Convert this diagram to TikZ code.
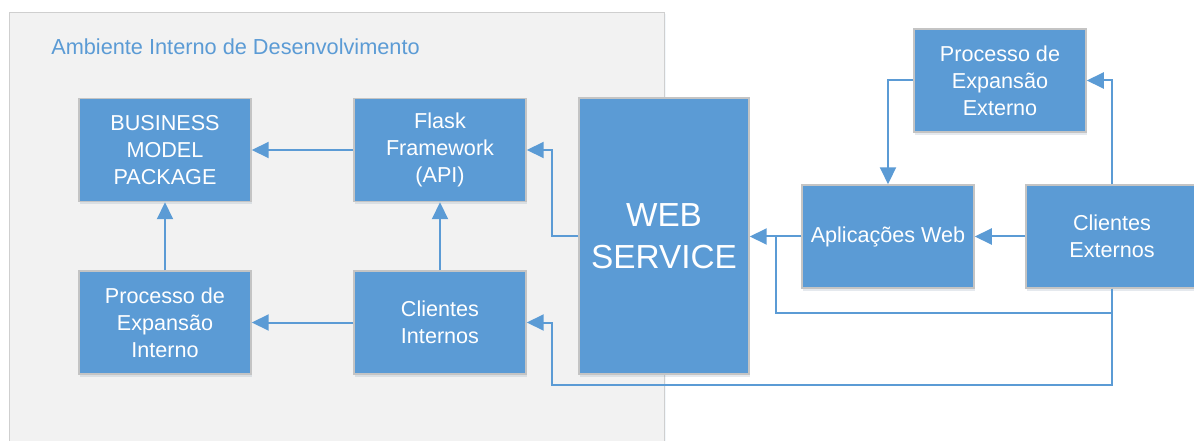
\documentclass[tikz,border=0pt]{standalone}
\usepackage{fontspec}
\setmainfont{Liberation Sans}
\usetikzlibrary{arrows.meta,shadows}
\definecolor{boxblue}{HTML}{5B9BD5}
\definecolor{boxedge}{HTML}{C4C4C4}
\definecolor{panel}{HTML}{F2F2F2}
\definecolor{panedge}{HTML}{CFCFCF}
\tikzset{
  box/.style={rectangle, draw=boxedge, line width=1.1pt, fill=boxblue,
    minimum width=129pt, minimum height=77.25pt, inner sep=2pt,
    text=white, align=center, font=\fontsize{16.2pt}{20.25pt}\selectfont,
    drop shadow={shadow xshift=0.8pt, shadow yshift=-2pt, fill=boxblue!40!gray, opacity=0.18}},
  bigbox/.style={box, minimum width=127.5pt, minimum height=207pt,
    font=\fontsize{25pt}{31.5pt}\selectfont},
  conn/.style={draw=boxblue, line width=1.5pt},
  arr/.style={conn, -{Triangle[length=12.75pt,width=12pt]}},
}
\begin{document}
\begin{tikzpicture}[x=0.75pt,y=-0.75pt]
\useasboundingbox (0,0) rectangle (1194,441);
\clip (0,0) rectangle (1194,441);
\fill[white] (0,0) rectangle (1194,441);
% panel
\node[draw=panedge, line width=1.1pt, fill=panel, rectangle, minimum width=491.25pt, minimum height=345pt, anchor=north west, inner sep=0pt,
  drop shadow={shadow xshift=1pt, shadow yshift=-1pt, fill=boxblue!30!white, opacity=0.25}] (panel) at (9,12) {};
\node[anchor=base west, inner sep=0pt, text=boxblue, font=\fontsize{16.3pt}{20.25pt}\selectfont] (title) at (51,55) {Ambiente Interno de Desenvolvimento};
% boxes
\node[box] (bmp) at (165,150) {BUSINESS\\MODEL\\PACKAGE};
\node[box] (flask) at (440,150) {Flask\\Framework\\(API)};
\node[box] (pei) at (165,322.5) {Processo de\\Expansão\\Interno};
\node[box] (ci) at (440,322.5) {Clientes\\Internos};
\node[bigbox] (ws) at (664,236) {WEB\\SERVICE};
\node[box] (pee) at (1000,80.5) {Processo de\\Expansão\\Externo};
\node[box] (aw) at (888,236.5) {Aplicações Web};
\node[box] (ce) at (1112,236.5) {Clientes\\Externos};
% junctions
\coordinate (j1) at (552,236.5);
\coordinate (j2) at (776,313);
\coordinate (j3) at (552,385);
% connectors
\draw[arr] (flask.west) -- (flask.west -| bmp.east);
\draw[arr] (ci.north) -- (flask.south);
\draw[arr] (pei.north) -- (bmp.south);
\draw[arr] (ci.west) -- (ci.west -| pei.east);
\draw[arr] (ws.west |- j1) -- (j1) |- (flask.east);
\draw[arr] (aw.west) -- (aw.west -| ws.east);
\draw[arr] (ce.west) -- (aw.east);
\draw[arr] (ce.north) |- (pee.east);
\draw[arr] (pee.west) -| (aw.north);
\draw[conn] (ce.south) |- (j2) -- (j2 |- aw.west);
\draw[arr] (ce.south) |- (j3) |- (ci.east);
\end{tikzpicture}
\end{document}
